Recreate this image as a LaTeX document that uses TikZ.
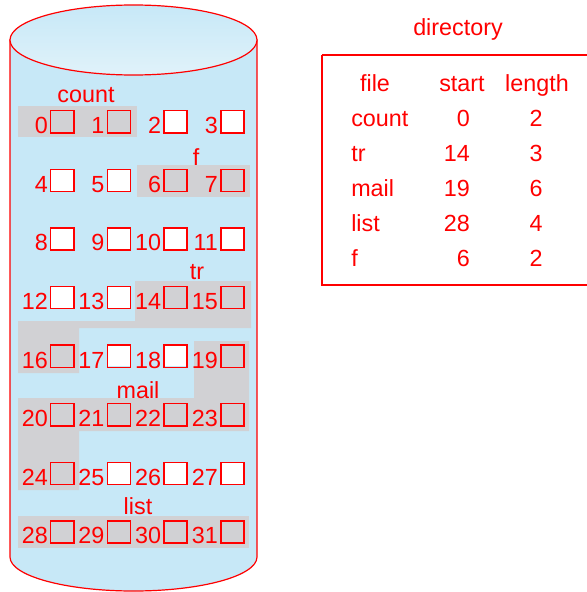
\documentclass[tikz,border=0pt]{standalone}
\usepackage{fontspec}
\setmainfont{Liberation Sans}
\usetikzlibrary{calc}
\definecolor{DiskClr}{rgb}{0.78,0.91,0.97}
\definecolor{TopClr}{rgb}{0.88,0.95,0.98}
\definecolor{UsedClr}{rgb}{0.82,0.82,0.83}
\definecolor{TextClr}{rgb}{1,0,0}

\tikzset{
  blk/.style={draw=TextClr,line width=1.1pt,minimum width=17.3pt,minimum height=16.6pt,inner sep=0pt},
  num/.style={text=TextClr,font=\fontsize{17.5}{20}\selectfont,inner sep=0pt},
}

\begin{document}
\begin{tikzpicture}[x=0.75pt,y=-0.75pt]
\useasboundingbox (0,0) rectangle (586,592);

% disk body
\path[fill=DiskClr,draw=TextClr,line width=0.9pt] (10,40) -- (10,557)
  arc[start angle=180,end angle=0,x radius=123.5,y radius=34] -- (257,40) -- cycle;
\path[draw=TextClr,line width=0.9pt,top color=DiskClr,bottom color=TopClr]
  (133.5,40) ellipse [x radius=123.5,y radius=35];

% used blocks
\fill[UsedClr] (18,106) rectangle (137,137);
\fill[UsedClr] (137,165) rectangle (250,197);
\fill[UsedClr] (135,281) -- (251,281) -- (251,328) -- (79,328) -- (79,373)
  -- (18,373) -- (18,321) -- (135,321) -- cycle;
\fill[UsedClr] (194,341) -- (249,341) -- (249,431) -- (79,431) -- (79,490)
  -- (18,490) -- (18,398) -- (194,398) -- cycle;
\fill[UsedClr] (18,516) rectangle (249,548);

% free blocks
\foreach \n in {2,3,4,5,8,9,10,11,12,13,17,18,25,26,27}{
  \pgfmathtruncatemacro\c{mod(\n,4)}
  \pgfmathtruncatemacro\r{div(\n,4)}
  \fill[white] ({50+56.7*\c},{110+58.6*\r}) rectangle ++(23,22);
}

\foreach \n in {0,...,31}{
  \pgfmathtruncatemacro\c{mod(\n,4)}
  \pgfmathtruncatemacro\r{div(\n,4)}
  \node[blk,anchor=north west] (b\n) at ({50+56.7*\c},{110+58.6*\r}) {};
  \node[num,anchor=base east] (n\n) at ($(b\n.south west)+(-1.5pt,0)$) {\n};
}

\node[num,anchor=base] (count) at (86,103) {count};
\node[num,anchor=base] (f) at (196,165) {f};
\node[num,anchor=base] (tr) at (197,279) {tr};
\node[num,anchor=base] (mail) at (138,398) {mail};
\node[num,anchor=base] (list) at (138,514) {list};

% directory
\node[num,anchor=base] (dir) at (458,36) {directory};
\draw[TextClr,line width=1.8pt] (322,55) -- (594,55) (322,55) -- (322,285) -- (594,285);
\node[num,anchor=base] (hfile) at (375,92) {file};
\node[num,anchor=base] (hstart) at (462,92) {start};
\node[num,anchor=base] (hlen) at (537,92) {length};
\foreach \f/\s/\l [count=\i] in {count/0/2,tr/14/3,mail/19/6,list/28/4,f/6/2}{
  \node[num,anchor=base west] (f\i) at (351,{92+34.8*\i}) {\f};
  \node[num,anchor=base east] (s\i) at (470,{92+34.8*\i}) {\s};
  \node[num,anchor=base] (l\i) at (536,{92+34.8*\i}) {\l};
}

\end{tikzpicture}
\end{document}
